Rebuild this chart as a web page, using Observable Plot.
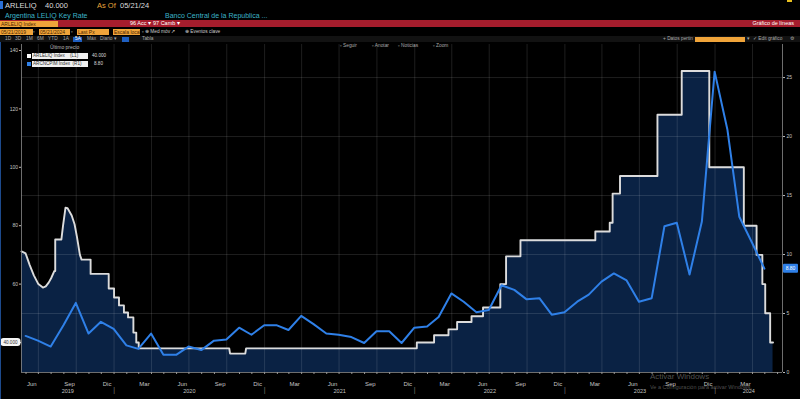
<!DOCTYPE html>
<html><head><meta charset="utf-8">
<script src="https://cdn.jsdelivr.net/npm/d3@7"></script>
<script src="https://cdn.jsdelivr.net/npm/@observablehq/plot@0.6"></script>
<style>
html,body{margin:0;padding:0;background:#000;width:800px;height:399px;overflow:hidden;font-family:"Liberation Sans",Arial,sans-serif;}
#root{position:relative;width:800px;height:399px;}
.a{position:absolute;white-space:nowrap;line-height:1;}
.ob{position:absolute;background:#f0a43a;color:#4a2400;font-size:5px;line-height:6px;height:6px;padding-left:1px;overflow:hidden;white-space:nowrap;}
.t5{font-size:4.8px;color:#aaa;}
</style></head><body>
<div id="root">
  <!-- row 1 -->
  <div class="a" style="left:0;top:1px;width:3px;height:8px;background:#2a6fd6"></div>
  <div class="a" style="left:5px;top:2px;font-size:7.5px;color:#ddd">ARLELIQ</div>
  <div class="a" style="left:45px;top:2px;font-size:7.5px;color:#ddd">40.000</div>
  <div class="a" style="left:97px;top:2px;font-size:7.5px;color:#e8a33a">As Of</div>
  <div class="a" style="left:120px;top:2px;font-size:7.5px;color:#ddd">05/21/24</div>
  <div class="a" style="left:787px;top:0;width:5px;height:2px;background:#e8c020"></div>
  <!-- row 2 -->
  <div class="a" style="left:5px;top:12px;font-size:7px;color:#3cb4c8">Argentina LELIQ Key Rate</div>
  <div class="a" style="left:165px;top:12px;font-size:7px;color:#3cb4c8">Banco Central de la Republica ...</div>
  <!-- row 3 red bar -->
  <div class="a" style="left:0;top:20px;width:800px;height:7px;background:#a51d2d"></div>
  <div class="ob" style="left:0;top:20.5px;width:57px;">ARLELIQ Index</div>
  <div class="a" style="left:130px;top:21px;font-size:5.5px;color:#fff">96 Acc ▾</div>
  <div class="a" style="left:153px;top:21px;font-size:5.5px;color:#fff">97 Camb ▾</div>
  <div class="a" style="right:6px;top:21px;font-size:5.5px;color:#fff">Gráfico de líneas</div>
  <!-- row 4 -->
  <div class="ob" style="left:0;top:29px;width:32px;">05/21/2019</div>
  <div class="a t5" style="left:33px;top:29.5px;color:#ccc">▫</div>
  <div class="ob" style="left:39px;top:29px;width:30px;">05/21/2024</div>
  <div class="a t5" style="left:71px;top:29.5px;color:#ccc">▫</div>
  <div class="ob" style="left:77px;top:29px;width:31px;">Last Px</div>
  <div class="ob" style="left:113px;top:29px;width:26px;">Escala local</div>
  <div class="a t5" style="left:142px;top:29.5px;color:#ccc">▫ ⊕ Med móv ↗</div>
  <div class="a t5" style="left:185px;top:29.5px;color:#ccc">⊕ Eventos clave</div>
  <!-- row 5 -->
  <div class="a" style="left:0;top:36px;width:800px;height:6px;background:#121212"></div>
  <div class="a t5" style="left:5px;top:36.6px">1D</div>
  <div class="a t5" style="left:15px;top:36.6px">3D</div>
  <div class="a t5" style="left:26px;top:36.6px">1M</div>
  <div class="a t5" style="left:37px;top:36.6px">6M</div>
  <div class="a t5" style="left:48px;top:36.6px">YTD</div>
  <div class="a t5" style="left:63px;top:36.6px">1A</div>
  <div class="a" style="left:73px;top:36.5px;width:9px;height:5px;background:#1f5fc0"></div>
  <div class="a t5" style="left:75px;top:36.6px;color:#fff">5A</div>
  <div class="a t5" style="left:87px;top:36.6px">Máx</div>
  <div class="a t5" style="left:100px;top:36.6px">Diario ▾</div>
  <div class="a" style="left:122px;top:36.5px;width:7px;height:5px;background:#1f5fc0"></div>
  <div class="a t5" style="left:142px;top:36.6px">Tabla</div>
  <div class="a t5" style="left:663px;top:36.6px">+ Datos pertin</div>
  <div class="a" style="left:695px;top:36.5px;width:50px;height:5px;background:#f0a43a"></div>
  <div class="a t5" style="left:747px;top:36.6px">▾</div>
  <div class="a t5" style="left:753px;top:36.6px">✓ Edit gráfico</div>
  <div class="a t5" style="left:790px;top:36.6px">⚙</div>

  <div id="chart" style="position:absolute;left:0;top:42px;"></div>
  <div class="a" style="left:0;top:42px;width:1px;height:357px;background:#1d4a8c"></div>

  <!-- toolbar over chart -->
  <div class="a t5" style="left:340px;top:44px">▫ Seguir</div>
  <div class="a t5" style="left:372px;top:44px">▫ Anotar</div>
  <div class="a t5" style="left:398px;top:44px">▫ Noticias</div>
  <div class="a t5" style="left:433px;top:44px">▫ Zoom</div>

  <!-- legend -->
  <div class="a" style="left:50px;top:45px;font-size:5px;color:#bbb">Último precio</div>
  <div class="a" style="left:27px;top:53.5px;width:4px;height:4px;background:#fff"></div>
  <div class="a" style="left:32px;top:52.5px;width:56px;height:6px;background:#f0f0f0;color:#333;font-size:4.6px;line-height:6px;padding-left:1px;box-sizing:border-box">ARLELIQ Index&nbsp;&nbsp;&nbsp;&nbsp;(L1)</div>
  <div class="a" style="left:92px;top:53.5px;font-size:4.6px;color:#ddd">40.000</div>
  <div class="a" style="left:27px;top:61.5px;width:4px;height:4px;background:#2f80e8"></div>
  <div class="a" style="left:32px;top:60.5px;width:56px;height:6px;background:#f0f0f0;color:#333;font-size:4.6px;line-height:6px;padding-left:1px;box-sizing:border-box">ARCNCPIM Index&nbsp;&nbsp;(R1)</div>
  <div class="a" style="left:94px;top:61.5px;font-size:4.6px;color:#ddd">8.80</div>

  <!-- watermark -->
  <div class="a" style="left:650px;top:373px;font-size:8px;color:rgba(255,255,255,0.33)">Activar Windows</div>
  <div class="a" style="left:650px;top:385px;font-size:5.5px;color:rgba(255,255,255,0.3)">Ve a Configuración para activar Windows.</div>
</div>
<script>
// ---- data ----
const leliqDates = [
 "2019-05-21","2019-05-31","2019-06-10","2019-06-20","2019-07-01","2019-07-12","2019-07-19","2019-07-26","2019-08-01","2019-08-09",
 "2019-08-11","2019-08-11","2019-08-26","2019-08-30","2019-09-05","2019-09-10","2019-09-20","2019-09-27","2019-10-03","2019-10-10","2019-10-14",
 "2019-11-05","2019-11-05","2019-12-19","2019-12-19","2020-01-01","2020-01-01","2020-01-13","2020-01-13","2020-01-25","2020-01-25",
 "2020-02-04","2020-02-04","2020-02-17","2020-02-17","2020-02-24","2020-02-24","2020-03-01","2020-03-01",
 "2020-10-07","2020-10-09","2020-11-15","2020-11-17",
 "2022-01-06","2022-01-06","2022-02-17","2022-02-17","2022-03-24","2022-03-24","2022-04-14","2022-04-14","2022-05-19","2022-05-19",
 "2022-06-16","2022-06-16","2022-07-28","2022-07-28","2022-08-11","2022-08-11","2022-09-15","2022-09-15",
 "2023-03-16","2023-03-16","2023-04-20","2023-04-20","2023-04-27","2023-04-27","2023-05-15","2023-05-15",
 "2023-08-14","2023-08-14","2023-10-12","2023-10-12","2023-12-18","2023-12-18",
 "2024-03-11","2024-03-11","2024-04-11","2024-04-11","2024-04-25","2024-04-25","2024-05-02","2024-05-02","2024-05-14","2024-05-14","2024-05-21"
];
const leliqValues = [
 71.2,70.5,66.5,63.0,60.0,58.8,59.2,60.5,62.0,64.5,
 64.5,75.3,75.3,80.0,86.2,86.0,83.5,80.5,76.0,70.0,68.4,
 68.4,63.5,63.5,58.5,58.5,55.4,55.4,52.7,52.7,50.3,
 50.3,48.6,48.6,43.4,43.4,40.0,40.0,38.0,
 38.0,36.2,36.2,38.0,
 38.0,40.0,40.0,42.5,42.5,44.5,44.5,47.0,47.0,49.0,
 49.0,52.0,52.0,60.0,60.0,69.5,69.5,75.0,
 75.0,78.0,78.0,81.0,81.0,91.0,91.0,97.0,
 97.0,118.0,118.0,133.0,133.0,100.0,
 100.0,80.0,80.0,70.0,70.0,60.0,60.0,50.0,50.0,40.0,40.0
];
const cpiMonths = [
 "2019-05","2019-06","2019-07","2019-08","2019-09","2019-10","2019-11","2019-12",
 "2020-01","2020-02","2020-03","2020-04","2020-05","2020-06","2020-07","2020-08","2020-09","2020-10","2020-11","2020-12",
 "2021-01","2021-02","2021-03","2021-04","2021-05","2021-06","2021-07","2021-08","2021-09","2021-10","2021-11","2021-12",
 "2022-01","2022-02","2022-03","2022-04","2022-05","2022-06","2022-07","2022-08","2022-09","2022-10","2022-11","2022-12",
 "2023-01","2023-02","2023-03","2023-04","2023-05","2023-06","2023-07","2023-08","2023-09","2023-10","2023-11","2023-12",
 "2024-01","2024-02","2024-03","2024-04"
];
const cpiValues = [
 3.1,2.7,2.2,4.0,5.9,3.3,4.3,3.7,
 2.3,2.0,3.3,1.5,1.5,2.2,1.9,2.7,2.8,3.8,3.2,4.0,
 4.0,3.6,4.8,4.1,3.3,3.2,3.0,2.5,3.5,3.5,2.5,3.8,
 3.9,4.7,6.7,6.0,5.1,5.3,7.4,7.0,6.2,6.3,4.9,5.1,
 6.0,6.6,7.7,8.4,7.8,6.0,6.3,12.4,12.7,8.3,12.8,25.5,
 20.6,13.2,11.0,8.8
];
const leftTicks = [40, 60, 80, 100, 120, 140];
const rightTicks = [0, 5, 10, 15, 20, 25];
const monthNamesEs = ["Ene","Feb","Mar","Abr","May","Jun","Jul","Ago","Sep","Oct","Nov","Dic"];
const yearLabels = ["2019","2020","2021","2022","2023","2024"];

// ---- build ----
const parse = d3.utcParse("%Y-%m-%d");
const xStart = parse("2019-05-21"), xEnd = parse("2024-06-13");
const yDomain = [29.73, 142.05];
const k = 4.04;
const toLeft = v => yDomain[0] + v * k;
const fromLeft = d => Math.round((d - yDomain[0]) / k);

const leliq = leliqDates.map((d, i) => ({date: parse(d), value: leliqValues[i]}));
const cpi = cpiMonths.map((m, i) => ({date: d3.utcDay.offset(d3.utcMonth.offset(parse(m + "-01"), 1), -1), value: cpiValues[i]}));
const lastL = leliqValues[leliqValues.length - 1];
const lastC = cpiValues[cpiValues.length - 1];

const gridDates = d3.utcMonth.every(3).range(xStart, xEnd);
const monthStarts = d3.utcMonth.range(xStart, xEnd);
const quarterLabelDates = [];
for (let d = parse("2019-06-15"); d < xEnd; d = d3.utcMonth.offset(d, 3)) quarterLabelDates.push(d);
const yearStarts = yearLabels.slice(1).map(y => parse(y + "-01-01"));
const yearMid = yearLabels.map(y => {
  const a = d3.max([parse(y + "-01-01"), xStart]);
  const b = d3.min([parse((+y + 1) + "-01-01"), xEnd]);
  return new Date((+a + +b) / 2);
});

const axisFont = "Liberation Sans, Arial, sans-serif";
const plot = Plot.plot({
  width: 800, height: 357,
  marginTop: 2, marginBottom: 27, marginLeft: 21, marginRight: 18,
  style: {background: "#000", color: "#c4c4c4", fontFamily: axisFont, overflow: "visible"},
  x: {type: "utc", domain: [xStart, xEnd]},
  y: {domain: yDomain},
  marks: [
    Plot.areaY(leliq, {x: "date", y1: yDomain[0], y2: "value", fill: "#0a2244"}),
    Plot.ruleX(gridDates, {stroke: "#fff", strokeOpacity: 0.15, strokeWidth: 0.8}),
    Plot.ruleY(rightTicks.slice(1).map(toLeft), {stroke: "#fff", strokeOpacity: 0.15, strokeWidth: 0.8}),
    Plot.line(leliq, {x: "date", y: "value", stroke: "#dcdcdc", strokeWidth: 1.9}),
    Plot.line(cpi, {x: "date", y: d => toLeft(d.value), stroke: "#2f80e8", strokeWidth: 2}),
    Plot.ruleY([yDomain[0]], {stroke: "#8a8a8a", strokeWidth: 0.8}),
    Plot.ruleX([xStart], {stroke: "#8a8a8a", strokeWidth: 0.8}),
    Plot.ruleX([xEnd], {stroke: "#8a8a8a", strokeWidth: 0.8}),
    // the last-value tag covers the "40" label, so that label is left blank
    Plot.axisY(leftTicks, {anchor: "left", tickFormat: d => (d === lastL ? "" : d), tickSize: 2, tickPadding: 1.5, fontSize: 5, label: null, stroke: "#bbb"}),
    Plot.axisY(rightTicks.map(toLeft), {anchor: "right", tickFormat: d => fromLeft(d), tickSize: 2, tickPadding: 2, fontSize: 5, label: null, stroke: "#bbb"}),
    Plot.axisX(monthStarts, {tickFormat: () => "", tickSize: 2, label: null, stroke: "#999"}),
    Plot.axisX(quarterLabelDates, {tickFormat: d => monthNamesEs[d.getUTCMonth()], tickSize: 0, tickPadding: 9.5, fontSize: 6, label: null}),
    Plot.axisX(yearMid, {tickFormat: d => yearLabels[yearMid.indexOf(d)], tickSize: 0, tickPadding: 16.5, fontSize: 5.5, label: null}),
    Plot.axisX(yearStarts, {tickFormat: () => "|", tickSize: 0, tickPadding: 15, fontSize: 7, fill: "#777", label: null})
  ]
});
document.getElementById("chart").appendChild(plot);

// value tags on the axes, positioned via the plot's y scale
const ys = plot.scale("y");
const svg = d3.select(plot);
const yl = ys.apply(lastL), yc = ys.apply(toLeft(lastC));
const g = svg.append("g");
g.append("rect").attr("x", 0.5).attr("y", yl - 4).attr("width", 20).attr("height", 8).attr("rx", 3).attr("fill", "#f4f4f4");
g.append("text").attr("x", 10.5).attr("y", yl).attr("dy", "0.35em").attr("text-anchor", "middle")
  .attr("font-size", 4.6).attr("fill", "#333").text(d3.format(".3f")(lastL));
g.append("rect").attr("x", 783).attr("y", yc - 4.5).attr("width", 15).attr("height", 9).attr("rx", 1).attr("fill", "#2f80e8");
g.append("text").attr("x", 790.5).attr("y", yc).attr("dy", "0.35em").attr("text-anchor", "middle")
  .attr("font-size", 5).attr("fill", "#fff").text(lastC.toFixed(2));
</script>
</body></html>
